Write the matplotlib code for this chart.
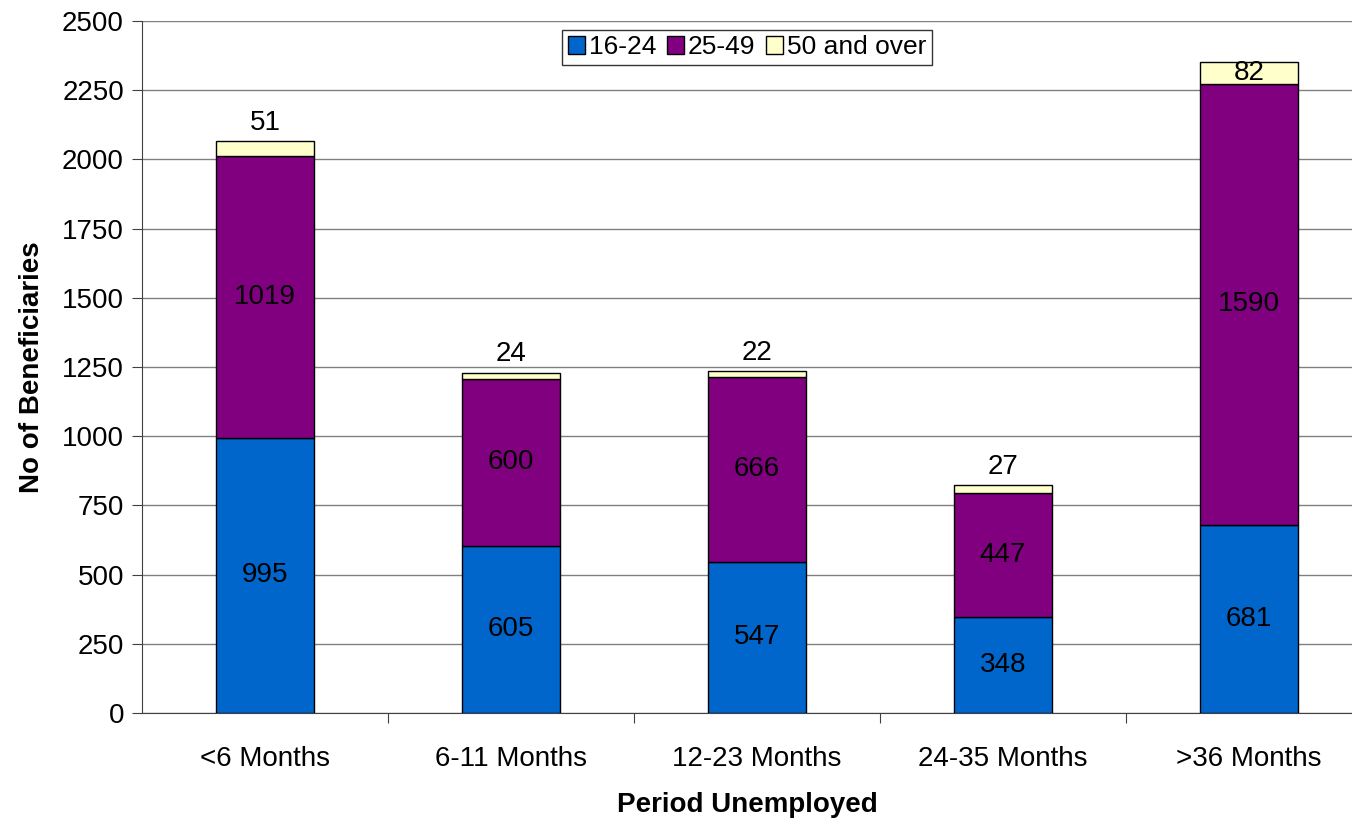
import matplotlib
matplotlib.use("Agg")
import matplotlib.pyplot as plt
import numpy as np

plt.rcParams['font.family'] = ['Liberation Sans', 'DejaVu Sans']

categories = ["<6 Months", "6-11 Months", "12-23 Months", "24-35 Months", ">36 Months"]
age_16_24 = [995, 605, 547, 348, 681]
age_25_49 = [1019, 600, 666, 447, 1590]
age_50_over = [51, 24, 22, 27, 82]
series_names = ["16-24", "25-49", "50 and over"]
colors = ["#0066CC", "#800080", "#FFFFCC"]

fig = plt.figure(figsize=(13.52, 8.19), dpi=100)
ax = fig.add_axes([0.105, 0.1294, 0.895, 0.845])

x = np.arange(len(categories))
width = 0.4
bottom = np.zeros(len(categories))
for vals, name, col in zip([age_16_24, age_25_49, age_50_over], series_names, colors):
    vals = np.array(vals)
    ax.bar(x, vals, width, bottom=bottom, color=col, edgecolor="black",
           linewidth=1, label=name, zorder=3)
    for xi, b, v in zip(x, bottom, vals):
        if v < 60:
            ax.text(xi, b + v + 20, str(v), ha="center", va="bottom", fontsize=20)
        else:
            ax.text(xi, b + v / 2, str(v), ha="center", va="center", fontsize=20)
    bottom = bottom + vals

ax.set_xlim(-0.5, 4.42)
ax.set_ylim(0, 2500)
ax.set_yticks(np.arange(0, 2501, 250))
ax.yaxis.grid(True, color="#808080", linewidth=1, zorder=0)
ax.set_axisbelow(True)

ax.set_xticks(np.arange(0.5, 4.5, 1))
ax.set_xticklabels([])
ax.set_xticks(x, minor=True)
ax.set_xticklabels(categories, minor=True, fontsize=20)
ax.tick_params(axis="x", which="minor", length=0, pad=24)
ax.tick_params(axis="x", which="major", length=7, direction="out", color="#404040")
ax.tick_params(axis="y", labelsize=20, length=7, direction="out", color="#404040", pad=6)

for s in ["top", "right"]:
    ax.spines[s].set_visible(False)
ax.spines["left"].set_color("#404040")
ax.spines["bottom"].set_color("#404040")

ax.set_xlabel("Period Unemployed", fontsize=20, fontweight="bold", labelpad=14)
ax.set_ylabel("No of Beneficiaries", fontsize=20, fontweight="bold", labelpad=12)

leg = ax.legend(loc="upper center", bbox_to_anchor=(0.5, 0.987), ncol=3, fontsize=19,
                frameon=True, fancybox=False, edgecolor="black", handlelength=0.65,
                handleheight=0.65, handletextpad=0.15, columnspacing=0.4,
                borderpad=0.2, borderaxespad=0)
leg.get_frame().set_linewidth(1)

fig.savefig("out.png", dpi=100)
